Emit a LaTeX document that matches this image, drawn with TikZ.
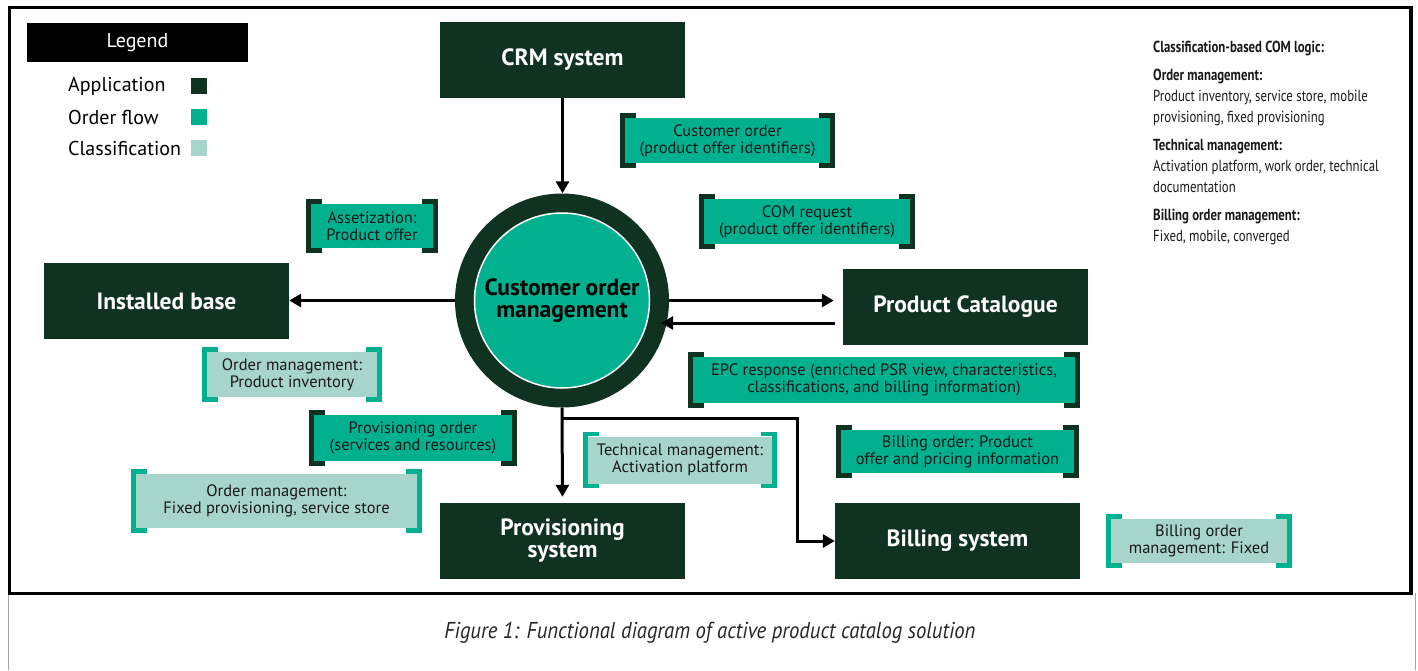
\documentclass[tikz,border=0pt]{standalone}
\usepackage{fontspec}
\setmainfont{PT Sans}
\newfontfamily\condfont[FakeStretch=0.8]{PT Sans}
\newfontfamily\capfont[FakeStretch=0.9]{PT Sans}
\usetikzlibrary{arrows.meta}

\definecolor{appgreen}{HTML}{0F3320}
\definecolor{flowgreen}{HTML}{00B08F}
\definecolor{classgreen}{HTML}{A8D5CB}

% bracket marks on both ends of a label box
\newcommand{\labelbrackets}[2]{%
  \draw[#2, line width=4.5pt]
    ([shift={(11pt,2.25pt)}]#1.north west) -- ([shift={(-2.25pt,2.25pt)}]#1.north west)
    -- ([shift={(-2.25pt,-2.25pt)}]#1.south west) -- ([shift={(11pt,-2.25pt)}]#1.south west);
  \draw[#2, line width=4.5pt]
    ([shift={(-11pt,2.25pt)}]#1.north east) -- ([shift={(2.25pt,2.25pt)}]#1.north east)
    -- ([shift={(2.25pt,-2.25pt)}]#1.south east) -- ([shift={(-11pt,-2.25pt)}]#1.south east);
}

\begin{document}
\begin{tikzpicture}[x=1pt, y=-1pt,
    app/.style={fill=appgreen, text=white, inner sep=0pt, align=center,
      minimum width=245pt, minimum height=76pt,
      font=\fontsize{23.5}{22}\selectfont\bfseries},
    lbl/.style={inner sep=0pt, align=center, text=black!90,
      font=\fontsize{16.5}{17}\selectfont},
    flowlbl/.style={lbl, fill=flowgreen},
    classlbl/.style={lbl, fill=classgreen},
    flow/.style={line width=3pt, -{Triangle[length=12pt,width=13pt]}},
    keybox/.style={minimum size=16pt, inner sep=0pt},
    keytext/.style={anchor=west, inner sep=0pt, font=\fontsize{20}{22}\selectfont}]
  \useasboundingbox (0,0) rectangle (1418,670);

  % Frames
  \draw[gray!70, thin] (8,593) -- (8,670) (1415,593) -- (1415,670);
  \draw[line width=3.5pt] (9.5,7.5) rectangle (1411,593.5);

  % Legend
  \node[fill=black, text=white, minimum width=221pt, minimum height=39pt, inner sep=0pt,
    font=\fontsize{20}{22}\selectfont] (legend) at (137.5,42.5) {Legend};
  \node[keytext] (keyapp) at (68,86) {Application};
  \node[keytext] (keyflow) at (68,117) {Order flow};
  \node[keytext] (keyclass) at (68,148) {Classification};
  \node[keybox, fill=appgreen] (sqapp) at (199,86) {};
  \node[keybox, fill=flowgreen] (sqflow) at (199,117) {};
  \node[keybox, fill=classgreen] (sqclass) at (199,148) {};

  % Applications
  \node[app] (crm) at (562.5,60) {CRM system};
  \node[app] (inst) at (166.5,301) {Installed base};
  \node[app] (cat) at (965.5,307) {Product Catalogue};
  \node[app] (prov) at (562.5,541) {Provisioning\\system};
  \node[app] (bill) at (957.5,541) {Billing system};

  % Customer order management
  \node[circle, fill=appgreen, minimum size=214pt, inner sep=0pt] (comring) at (562,300.5) {};
  \node[circle, fill=flowgreen, draw=white, line width=1.5pt, minimum size=175pt, inner sep=0pt,
    align=center, font=\fontsize{23.5}{22}\selectfont\bfseries] (com) at (562,300.5)
    {Customer order\\management};

  % Order flow labels
  \node[flowlbl, minimum width=205pt, minimum height=45pt] (custord) at (727.5,140.5)
    {Customer order\\(product offer identifiers)};
  \node[flowlbl, minimum width=206pt, minimum height=45pt] (comreq) at (807,221.5)
    {COM request\\(product offer identifiers)};
  \node[flowlbl, minimum width=122pt, minimum height=44pt] (asset) at (372,226)
    {Assetization:\\Product offer};
  \node[flowlbl, minimum width=198pt, minimum height=46pt] (provord) at (413,438)
    {Provisioning order\\(services and resources)};
  \node[flowlbl, minimum width=382pt, minimum height=46pt] (epc) at (884,380)
    {EPC response (enriched PSR view, characteristics,\\classifications, and billing information)};
  \node[flowlbl, minimum width=233pt, minimum height=43pt] (billord) at (957.5,451.5)
    {Billing order: Product\\offer and pricing information};

  % Classification labels
  \node[classlbl, minimum width=170pt, minimum height=45pt] (invent) at (292,374.5)
    {Order management:\\Product inventory};
  \node[classlbl, minimum width=281pt, minimum height=54pt] (fixprov) at (276.5,501)
    {Order management:\\Fixed provisioning, service store};
  \node[classlbl, minimum width=184pt, minimum height=47pt] (techmg) at (680,460)
    {Technical management:\\Activation platform};
  \node[classlbl, minimum width=176pt, minimum height=44pt] (billmg) at (1199,541)
    {Billing order\\management: Fixed};

  \foreach \n in {custord,comreq,asset,provord,epc,billord} {
    \labelbrackets{\n}{appgreen}
  }
  \foreach \n in {invent,fixprov,techmg,billmg} {
    \labelbrackets{\n}{flowgreen}
  }

  % Connectors
  \coordinate (split) at (562,418);
  \coordinate (bend) at (797,418);
  \draw[flow] (crm.south) -- (crm.south |- comring.north);
  \draw[flow] (comring.west) -- (comring.west -| inst.east);
  \draw[flow, shorten >=9pt] (comring.east) -- (comring.east -| cat.west);
  \draw[flow] ([shift={(-8pt,-16pt)}]cat.west) -- ([shift={(-8pt,-16pt)}]cat.west -| comring.east);
  \draw[flow, shorten >=6pt] (comring.south) -- (prov.north);
  \draw[flow] (split) -- (bend) |- (bill.west);

  % Classification logic
  \node[anchor=north west, inner sep=0pt, align=left, text=black!90,
    font=\condfont\fontsize{16}{21}\selectfont] (logic) at (1153,41)
    {\textbf{Classification-based COM logic:}\\[7pt]
     \textbf{Order management:}\\
     Product inventory, service store, mobile\\
     provisioning, fixed provisioning\\[7pt]
     \textbf{Technical management:}\\
     Activation platform, work order, technical\\
     documentation\\[7pt]
     \textbf{Billing order management:}\\
     Fixed, mobile, converged};

  % Caption
  \node[font=\capfont\fontsize{23}{24}\selectfont\itshape, text=black!85] (caption) at (710,633)
    {Figure 1: Functional diagram of active product catalog solution};
\end{tikzpicture}
\end{document}
